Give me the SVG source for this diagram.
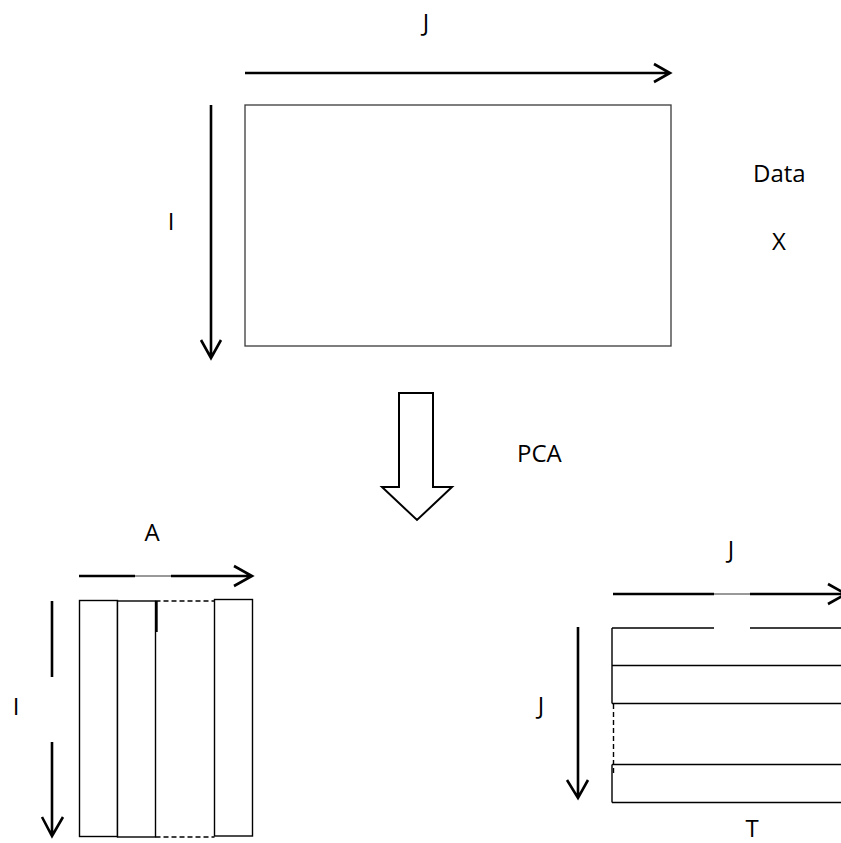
<svg xmlns="http://www.w3.org/2000/svg" width="841" height="843" viewBox="0 0 841 843">
  <style>
    .lbl { font-family: "Open Sans", "Liberation Sans", sans-serif; font-size: 24px; fill: #000; }
    .axis { fill: none; stroke: #000; stroke-width: 2.6; }
    .thin { fill: none; stroke: #333; stroke-width: 1; }
    .box { fill: #fff; stroke: #000; stroke-width: 1.4; }
    .dash { fill: none; stroke: #000; stroke-width: 1.4; stroke-dasharray: 5 3; }
  </style>
  <rect width="841" height="843" fill="#fff"/>

  <!-- data matrix X (I x J) -->
  <g id="data-matrix">
    <rect x="245" y="105" width="426" height="241" fill="#fff" stroke="#3a3a3a" stroke-width="1.3"/>
    <text class="lbl" x="753" y="182">Data</text>
    <text class="lbl" x="779" y="250" text-anchor="middle">X</text>
  </g>

  <!-- PCA step -->
  <g id="pca-step">
    <path d="M399,393 H433 V487 H452 L417,520 L382,487 H399 Z" fill="#fff" stroke="#000" stroke-width="2"/>
    <text class="lbl" x="517" y="462">PCA</text>
  </g>

  <!-- scores: I x A columns -->
  <g id="scores">
    <rect class="box" x="79.5" y="600.5" width="38" height="236"/>
    <rect class="box" x="117.5" y="601" width="38" height="236"/>
    <path class="dash" d="M155.5,601 H214.5 M155.5,837 H214.5"/>
    <path d="M156.5,601 V632" stroke="#000" stroke-width="2.4"/>
    <rect class="box" x="214.5" y="599.5" width="38" height="236.5"/>
  </g>

  <!-- loadings: J x J rows -->
  <g id="loadings">
    <path d="M612,628 H714 M750,628 H841 M612,665.5 H841 M612,703.5 H841 M612,764.5 H841 M612,802.5 H841 M612,628 V703.5 M612,764.5 V802.5" fill="none" stroke="#000" stroke-width="1.4"/>
    <path class="dash" d="M613.5,704 V775"/>
    <text class="lbl" x="752" y="837" text-anchor="middle">T</text>
  </g>

  <!-- axis arrows and their labels -->
  <g id="connectors">
    <path class="axis" d="M245,73 H670 M654,64 L670,73 L654,82"/>
    <path class="axis" d="M211,105 V357 M201,340 L211,358 L221,340"/>
    <path class="axis" d="M79,576 H135 M171,576 H251 M234,566 L252,576 L234,586"/>
    <path class="thin" d="M135,576 H171"/>
    <path class="axis" d="M52,601 V677 M52,742 V835 M42,817 L52,836 L63,817"/>
    <path class="axis" d="M613,594 H714 M750,594 H841 M828,584 L846,594 L828,604"/>
    <path class="thin" d="M714,594 H750"/>
    <path class="axis" d="M578,627 V797 M567,780 L578,798 L588,780"/>
  </g>

  <g id="axis-labels">
    <text class="lbl" x="426" y="31" text-anchor="middle">J</text>
    <text class="lbl" x="171" y="230" text-anchor="middle">I</text>
    <text class="lbl" x="152" y="541" text-anchor="middle">A</text>
    <text class="lbl" x="16" y="715" text-anchor="middle">I</text>
    <text class="lbl" x="731" y="558" text-anchor="middle">J</text>
    <text class="lbl" x="541" y="714" text-anchor="middle">J</text>
  </g>
</svg>
